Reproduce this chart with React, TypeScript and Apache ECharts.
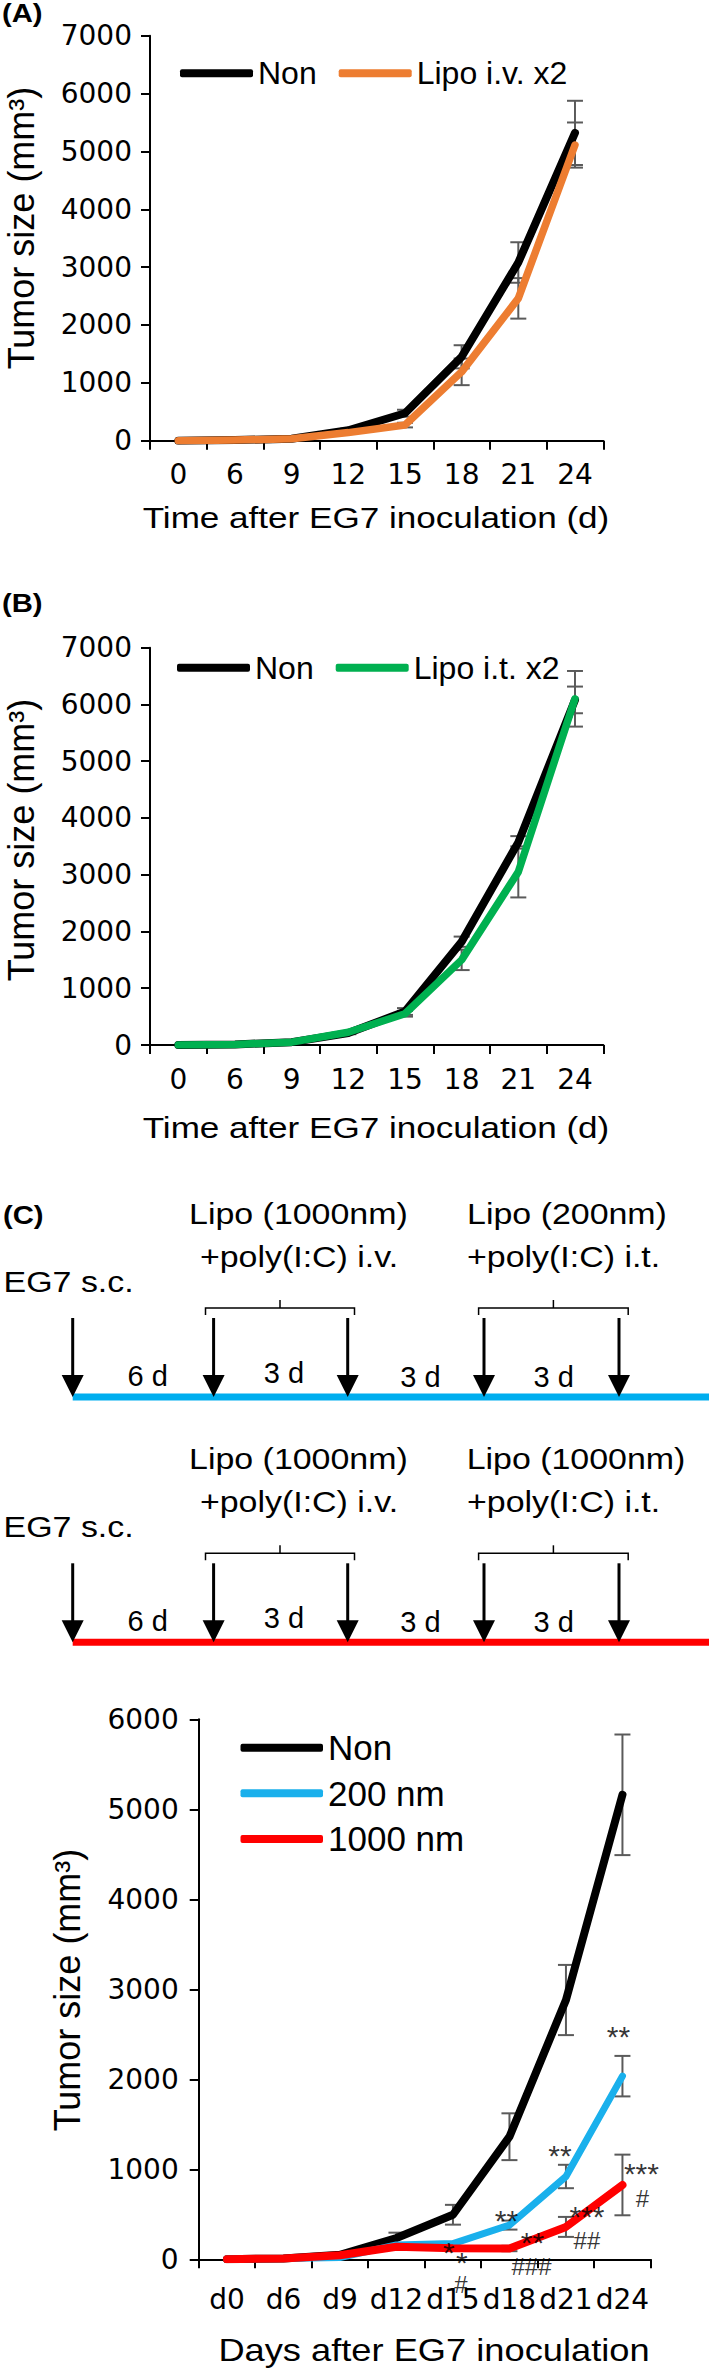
import React, { useEffect, useRef } from 'react';
import * as echarts from 'echarts';

// ---------- data ----------
const daysAB = ['0', '6', '9', '12', '15', '18', '21', '24'];
const daysC = ['d0', 'd6', 'd9', 'd12', 'd15', 'd18', 'd21', 'd24'];

const nonA = [0, 10, 35, 180, 475, 1450, 3080, 5320];
const nonAErr = [0, 0, 0, 30, 60, 200, 350, 555];
const lipoIvA = [0, 10, 35, 140, 270, 1190, 2460, 5110];
const lipoIvAErr = [0, 0, 0, 20, 40, 230, 350, 390];

const nonB = [0, 10, 50, 210, 590, 1820, 3570, 6080];
const nonBErr = [0, 0, 0, 20, 60, 90, 110, 235];
const lipoItB = [0, 10, 50, 225, 550, 1500, 3050, 6100];
const lipoItBErr = [0, 0, 0, 20, 50, 180, 450, 490];

const nonC = [0, 10, 50, 236, 495, 1362, 2881, 5161];
const nonCErr = [0, 0, 0, 60, 110, 260, 390, 670];
const nm200C = [0, 10, 20, 160, 175, 380, 920, 2035];
const nm200CErr = [0, 0, 0, 0, 0, 50, 130, 225];
const nm1000C = [0, 10, 45, 140, 122, 120, 360, 826];
const nm1000CErr = [0, 0, 0, 0, 0, 30, 111, 337];

// significance marks on panel C (text, day index, value where the mark sits)
const markText = ['**', '**', '***', '#', '**', '***', '**', '##', '*', '*', '###', '#'];
const markDay = [7, 6, 7, 7, 5, 6, 5, 6, 4, 4, 5, 4];
const markValue = [2555, 1233, 1029, 678, 511, 548, 259, 207, 148, 37, -82, -278];
const markShift = [-4, -6, 19, 20, -3, 21, 23, 21, -4, 9, 22, 8];

// ---------- styles ----------
const SANS = "'Liberation Sans', Arial, Helvetica, sans-serif";
const TICKF = "'DejaVu Sans', sans-serif";
const ERR = '#5a5a5a';

function errSeries(vals: number[], errs: number[], idx: number) {
  return {
    type: 'custom',
    xAxisIndex: idx,
    yAxisIndex: idx,
    z: 1,
    silent: true,
    encode: { x: 0, y: 1 },
    data: vals.map((v, i) => [i, v, errs[i]]).filter((d) => d[2] > 0),
    renderItem: (params: any, api: any) => {
      const x = api.value(0);
      const y = api.value(1);
      const e = api.value(2);
      const top = api.coord([x, y + e]);
      const bot = api.coord([x, y - e]);
      const hw = 8;
      const style = { stroke: ERR, lineWidth: 2 };
      return {
        type: 'group',
        children: [
          { type: 'line', shape: { x1: top[0], y1: top[1], x2: bot[0], y2: bot[1] }, style },
          { type: 'line', shape: { x1: top[0] - hw, y1: top[1], x2: top[0] + hw, y2: top[1] }, style },
          { type: 'line', shape: { x1: bot[0] - hw, y1: bot[1], x2: bot[0] + hw, y2: bot[1] }, style },
        ],
      };
    },
  };
}

function lineSeries(name: string, vals: number[], color: string, idx: number, z: number, width: number) {
  return {
    type: 'line',
    name,
    xAxisIndex: idx,
    yAxisIndex: idx,
    data: vals,
    symbol: 'none',
    z,
    itemStyle: { color },
    lineStyle: { color, width, cap: 'round', join: 'round' },
  };
}

function xAxis(idx: number, data: string[], margin: number) {
  return {
    type: 'category',
    gridIndex: idx,
    data,
    boundaryGap: true,
    axisLine: { lineStyle: { color: '#000', width: 2 } },
    axisTick: { show: true, length: 9, lineStyle: { color: '#000', width: 2 } },
    axisLabel: { interval: 0, color: '#000', fontSize: 28, fontFamily: TICKF, margin },
    splitLine: { show: false },
  };
}

function yAxis(idx: number, max: number, margin: number) {
  return {
    type: 'value',
    gridIndex: idx,
    min: 0,
    max,
    interval: 1000,
    axisLine: { show: true, lineStyle: { color: '#000', width: 2 } },
    axisTick: { show: true, length: 9, lineStyle: { color: '#000', width: 2 } },
    axisLabel: {
      color: '#000',
      fontSize: 28,
      fontFamily: TICKF,
      margin,
      formatter: (v: number) => String(v),
    },
    splitLine: { show: false },
  };
}

function txt(text: string, x: number, y: number, size: number, align = 'center', extra: any = {}) {
  return {
    type: 'text',
    x,
    y,
    scaleX: extra.scaleX ?? 1.17,
    rotation: extra.rotation ?? 0,
    style: {
      text,
      fill: '#000',
      font: `${extra.bold ? 'bold ' : ''}${size}px ${SANS}`,
      align,
      verticalAlign: 'middle',
      textAlign: align,
      textVerticalAlign: 'middle',
    },
  };
}

function arrow(x: number, yTop: number, yTip: number) {
  return [
    { type: 'line', shape: { x1: x, y1: yTop, x2: x, y2: yTip - 18 }, style: { stroke: '#000', lineWidth: 3 } },
    {
      type: 'polygon',
      shape: { points: [[x - 11, yTip - 22], [x + 11, yTip - 22], [x, yTip]] },
      style: { fill: '#000' },
    },
  ];
}

function brace(x1: number, x2: number, y: number) {
  const st = { stroke: '#000', lineWidth: 1.5, fill: null };
  const m = (x1 + x2) / 2;
  return [
    { type: 'polyline', shape: { points: [[x1, y + 7], [x1, y], [x2, y], [x2, y + 7]] }, style: st },
    { type: 'line', shape: { x1: m, y1: y - 8, x2: m, y2: y }, style: st },
  ];
}

function schematic(dy: number, lineColor: string, rightLipo: string) {
  const arrowsX = [72.7, 213.6, 347.7, 484, 619];
  const els: any[] = [];
  els.push({
    type: 'line',
    shape: { x1: 72.7, y1: 1397 + dy, x2: 709, y2: 1397 + dy },
    style: { stroke: lineColor, lineWidth: 7 },
  });
  arrowsX.forEach((x) => els.push(...arrow(x, 1318 + dy, 1397 + dy)));
  els.push(...brace(205.5, 354.5, 1308 + dy));
  els.push(...brace(478.6, 628.2, 1308 + dy));
  els.push(txt('Lipo (1000nm)', 298.4, 1214 + dy, 29));
  els.push(txt('+poly(I:C) i.v.', 299, 1257 + dy, 29));
  els.push(txt(rightLipo, rightLipo === 'Lipo (200nm)' ? 567 : 576, 1214 + dy, 29));
  els.push(txt('+poly(I:C) i.t.', 563.6, 1257 + dy, 29));
  els.push(txt('EG7 s.c.', 3.6, 1281.7 + dy, 29, 'left'));
  els.push(txt('6 d', 147.7, 1376 + dy, 29, 'center', { scaleX: 1 }));
  els.push(txt('3 d', 284, 1373 + dy, 29, 'center', { scaleX: 1 }));
  els.push(txt('3 d', 420.5, 1377 + dy, 29, 'center', { scaleX: 1 }));
  els.push(txt('3 d', 553.6, 1377 + dy, 29, 'center', { scaleX: 1 }));
  return els;
}

function legend(left: number, top: number, data: string[], fontSize: number, itemWidth: number, vertical: boolean) {
  return {
    left,
    top,
    orient: vertical ? 'vertical' : 'horizontal',
    data: data.map((name) => ({ name, icon: 'roundRect' })),
    itemWidth,
    itemHeight: 8,
    itemGap: vertical ? 10.6 : 22,
    textStyle: { fontSize, fontFamily: SANS, color: '#000' },
  };
}

function buildOption() {
  const graphics: any[] = [
    txt('(A)', 2, 13, 25, 'left', { bold: true }),
    txt('(B)', 2, 603, 25, 'left', { bold: true }),
    txt('(C)', 3, 1215, 25, 'left', { bold: true }),
    txt('Tumor size (mm³)', 21.6, 228, 36, 'center', { scaleX: 1, rotation: Math.PI / 2 }),
    txt('Time after EG7 inoculation (d)', 376, 517.5, 30),
    txt('Tumor size (mm³)', 21.6, 840, 36, 'center', { scaleX: 1, rotation: Math.PI / 2 }),
    txt('Time after EG7 inoculation (d)', 376, 1127, 30),
    txt('Tumor size (mm³)', 67, 1990, 36, 'center', { scaleX: 1, rotation: Math.PI / 2 }),
    txt('Days after EG7 inoculation', 434, 2350, 31),
    ...schematic(0, '#00AEEF', 'Lipo (200nm)'),
    ...schematic(245.3, '#FF0000', 'Lipo (1000nm)'),
  ];

  return {
    animation: false,
    backgroundColor: '#fff',
    grid: [
      { left: 150, top: 35.7, width: 453.3, height: 405 },
      { left: 150, top: 647.7, width: 453.3, height: 397.3 },
      { left: 198.7, top: 1719.3, width: 452, height: 540 },
    ],
    xAxis: [xAxis(0, daysAB, 20), xAxis(1, daysAB, 20), xAxis(2, daysC, 26)],
    yAxis: [yAxis(0, 7000, 18), yAxis(1, 7000, 18), yAxis(2, 6000, 20)],
    legend: [
      legend(175, 52.3, ['Non', 'Lipo i.v. x2'], 32, 73, false),
      legend(172, 646.7, ['Non', 'Lipo i.t. x2'], 32, 73, false),
      legend(235.5, 1725.2, ['Non', '200 nm', '1000 nm'], 35, 82.5, true),
    ],
    graphic: graphics,
    series: [
      errSeries(nonA, nonAErr, 0),
      errSeries(lipoIvA, lipoIvAErr, 0),
      lineSeries('Non', nonA, '#000000', 0, 3, 8),
      lineSeries('Lipo i.v. x2', lipoIvA, '#ED7D31', 0, 4, 7.5),

      errSeries(nonB, nonBErr, 1),
      errSeries(lipoItB, lipoItBErr, 1),
      lineSeries('Non', nonB, '#000000', 1, 3, 8),
      lineSeries('Lipo i.t. x2', lipoItB, '#00B050', 1, 4, 7.5),

      errSeries(nonC, nonCErr, 2),
      errSeries(nm200C, nm200CErr, 2),
      errSeries(nm1000C, nm1000CErr, 2),
      lineSeries('Non', nonC, '#000000', 2, 3, 8),
      lineSeries('200 nm', nm200C, '#1AB0EC', 2, 4, 7),
      lineSeries('1000 nm', nm1000C, '#FF0000', 2, 5, 8),
      {
        type: 'scatter',
        xAxisIndex: 2,
        yAxisIndex: 2,
        clip: false,
        silent: true,
        z: 6,
        symbolSize: 1,
        itemStyle: { color: 'rgba(0,0,0,0)' },
        data: markText.map((t, i) => {
          const star = t.startsWith('*');
          return {
            value: [markDay[i], markValue[i]],
            label: {
              show: true,
              position: 'inside',
              formatter: t,
              offset: [markShift[i], star ? 7 : 0],
              fontSize: star ? 30 : 24,
              fontFamily: SANS,
              color: '#000',
            },
          };
        }),
      },
    ],
  };
}

export default function App() {
  const ref = useRef<HTMLDivElement>(null);
  useEffect(() => {
    const chart = echarts.init(ref.current as HTMLDivElement, null, { renderer: 'svg' });
    chart.setOption(buildOption() as any);
    return () => chart.dispose();
  }, []);
  return (
    <div
      ref={ref}
      style={{ position: 'absolute', left: 0, top: 0, width: 709, height: 2372, background: '#fff' }}
    />
  );
}
